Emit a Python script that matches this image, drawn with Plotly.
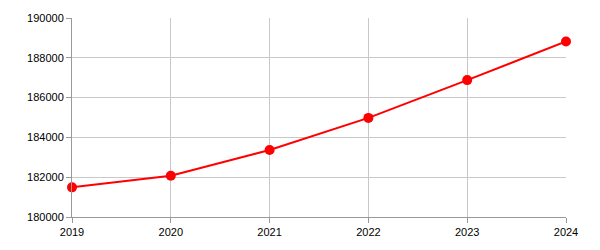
import plotly.graph_objects as go

years = [2019, 2020, 2021, 2022, 2023, 2024]
values = [181490, 182070, 183370, 184980, 186880, 188820]
y_ticks = [180000, 182000, 184000, 186000, 188000, 190000]

fig = go.Figure(go.Scatter(
    x=years, y=values, mode="lines+markers",
    line=dict(color="#ff0000", width=2),
    marker=dict(color="#ff0000", size=10),
    hoverinfo="x+y",
))

axis_common = dict(
    showgrid=True, gridcolor="#c8c8c8", gridwidth=1,
    showline=True, linecolor="#999999", linewidth=1,
    ticks="outside", tickcolor="#999999", ticklen=5,
    tickfont=dict(family="Liberation Sans, Arial", size=11, color="#000000"),
    zeroline=False,
)

fig.update_layout(
    width=600, height=250,
    margin=dict(l=72, r=34, t=14, b=33),
    paper_bgcolor="white", plot_bgcolor="white",
    showlegend=False,
    xaxis=dict(range=[2019, 2024], tickvals=years, ticktext=[str(y) for y in years],
               **axis_common),
    yaxis=dict(range=[180000, 190000], tickvals=y_ticks, ticktext=[str(v) for v in y_ticks],
               **axis_common),
)
fig.update_traces(cliponaxis=False)

fig.write_html("out.html")
